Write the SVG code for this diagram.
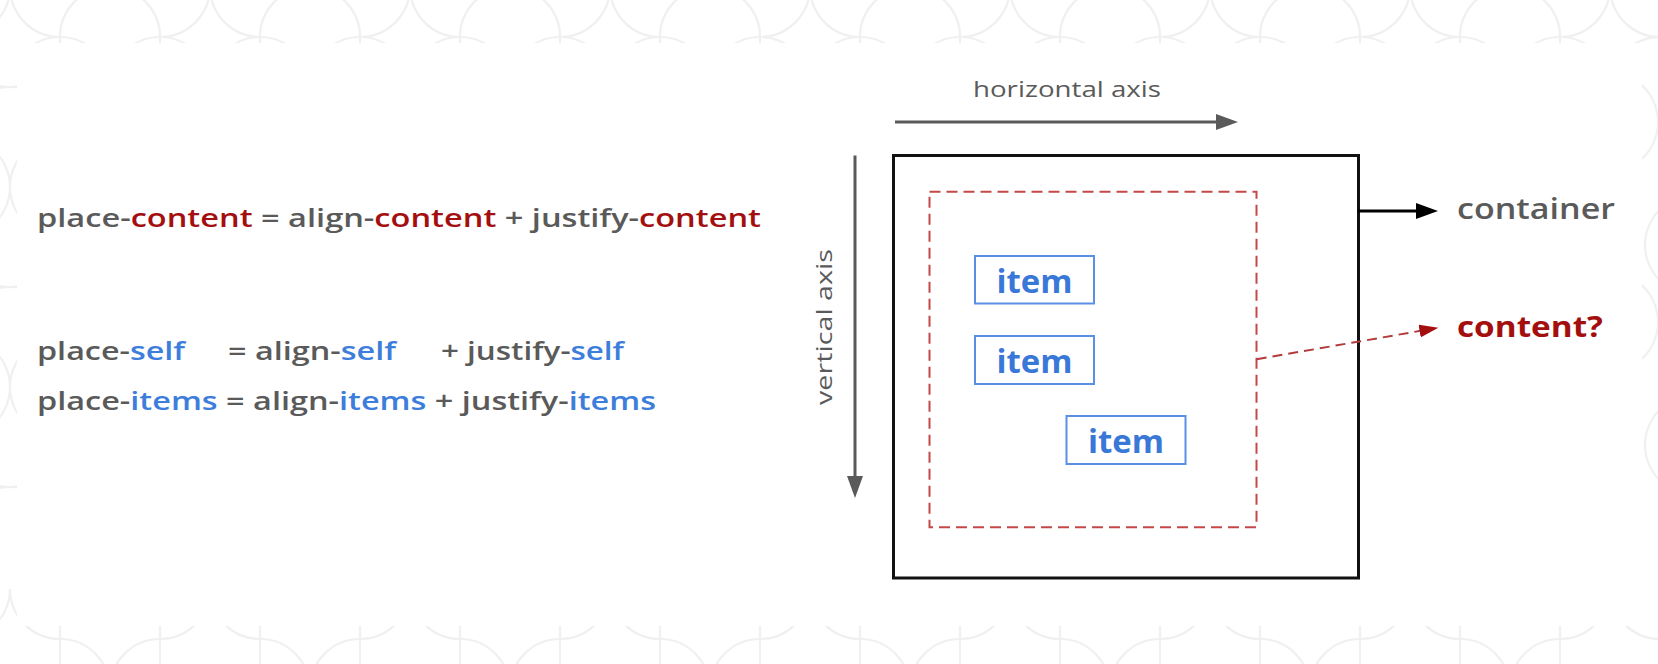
<svg xmlns="http://www.w3.org/2000/svg" xmlns:xlink="http://www.w3.org/1999/xlink" width="1658" height="664" viewBox="0 0 1658 664">
<style>
.bgp{fill:none;stroke:#f0f0f0;stroke-width:2.2}
.t{font-family:"Open Sans","Noto Sans","Liberation Sans",sans-serif;fill:#5a5a5a}
.lt{font-size:25px;font-weight:600}
.r{fill:#a30f0f}
.b{fill:#3d7ddb}
.ax{font-size:22px;font-weight:500}
.item rect{fill:#fff;stroke:#5b8fe3;stroke-width:2}
.item text{font-family:"Open Sans","Noto Sans","Liberation Sans",sans-serif;font-size:33px;font-weight:700;fill:#3a78d8;text-anchor:middle}
.gray{stroke:#5a5a5a;stroke-width:3;fill:none}
</style>
<defs>
<marker id="ahGray" viewBox="0 0 22 16" refX="1" refY="8" markerWidth="22" markerHeight="16" markerUnits="userSpaceOnUse" orient="auto"><path d="M0,0 L22,8 L0,16 z" fill="#5a5a5a"/></marker>
<marker id="ahBlack" viewBox="0 0 22 16" refX="1" refY="8" markerWidth="22" markerHeight="16" markerUnits="userSpaceOnUse" orient="auto"><path d="M0,0 L22,8 L0,16 z" fill="#000"/></marker>
<marker id="ahRed" viewBox="0 0 19 13" refX="1" refY="6.5" markerWidth="19" markerHeight="13" markerUnits="userSpaceOnUse" orient="auto"><path d="M0,0 L19,6.5 L0,13 z" fill="#a30f0f"/></marker>
<g id="tcell" class="bgp">
<path d="M0,37 A50,50 0 0 1 100,37"/>
<path d="M100,37 A50,50 0 0 0 150,-13"/>
<path d="M200,37 A50,50 0 0 1 150,-13"/>
<path d="M0,37 V60 M100,37 V60"/>
<path d="M-35,51.3 A50,50 0 0 1 35,51.3 M65,51.3 A50,50 0 0 1 135,51.3"/>
</g>
<g id="bcell" class="bgp">
<path d="M0,615 V664 M100,615 V664"/>
<path d="M0,639 A50,50 0 0 1 -50,589 M0,639 A50,50 0 0 1 50,689"/>
<path d="M100,639 A50,50 0 0 0 50,689 M100,639 A50,50 0 0 0 150,589"/>
</g>
</defs>
<rect width="1658" height="664" fill="#fff"/>
<g id="background">
<use xlink:href="#tcell" href="#tcell" x="-140"/>
<use xlink:href="#tcell" href="#tcell" x="60"/>
<use xlink:href="#tcell" href="#tcell" x="260"/>
<use xlink:href="#tcell" href="#tcell" x="460"/>
<use xlink:href="#tcell" href="#tcell" x="660"/>
<use xlink:href="#tcell" href="#tcell" x="860"/>
<use xlink:href="#tcell" href="#tcell" x="1060"/>
<use xlink:href="#tcell" href="#tcell" x="1260"/>
<use xlink:href="#tcell" href="#tcell" x="1460"/>
<use xlink:href="#tcell" href="#tcell" x="1660"/>
<use xlink:href="#bcell" href="#bcell" x="-140"/>
<use xlink:href="#bcell" href="#bcell" x="60"/>
<use xlink:href="#bcell" href="#bcell" x="260"/>
<use xlink:href="#bcell" href="#bcell" x="460"/>
<use xlink:href="#bcell" href="#bcell" x="660"/>
<use xlink:href="#bcell" href="#bcell" x="860"/>
<use xlink:href="#bcell" href="#bcell" x="1060"/>
<use xlink:href="#bcell" href="#bcell" x="1260"/>
<use xlink:href="#bcell" href="#bcell" x="1460"/>
<use xlink:href="#bcell" href="#bcell" x="1660"/>
<g class="bgp">
<path d="M-20,77 A50,50 0 0 0 40,77 M-20,97 A50,50 0 0 1 40,97"/>
<path d="M-20,277 A50,50 0 0 0 40,277 M-20,297 A50,50 0 0 1 40,297"/>
<path d="M-20,477 A50,50 0 0 0 40,477 M-20,497 A50,50 0 0 1 40,497"/>
<path d="M-10,147 A50,50 0 0 1 -10,227 M30,147 A50,50 0 0 0 30,227"/>
<path d="M-10,347 A50,50 0 0 1 -10,427 M30,347 A50,50 0 0 0 30,427"/>
<path d="M1638,82 A50,50 0 0 1 1638,162 M1638,282 A50,50 0 0 1 1638,362"/>
<path d="M1665,205 A50,50 0 0 0 1665,285 M1665,405 A50,50 0 0 0 1665,485"/>
</g>
<rect x="17" y="43" width="1625" height="583" fill="#fff"/>
</g>
<g id="formulas" class="t lt">
<text x="37" y="227" textLength="724" lengthAdjust="spacingAndGlyphs">place-<tspan class="r">content</tspan> = align-<tspan class="r">content</tspan> + justify-<tspan class="r">content</tspan></text>
<text x="37" y="360" textLength="148" lengthAdjust="spacingAndGlyphs">place-<tspan class="b">self</tspan></text>
<text x="228" y="360" textLength="168" lengthAdjust="spacingAndGlyphs">= align-<tspan class="b">self</tspan></text>
<text x="441" y="360" textLength="183" lengthAdjust="spacingAndGlyphs">+ justify-<tspan class="b">self</tspan></text>
<text x="37" y="410" textLength="619" lengthAdjust="spacingAndGlyphs">place-<tspan class="b">items</tspan> = align-<tspan class="b">items</tspan> + justify-<tspan class="b">items</tspan></text>
</g>
<g id="container">
<rect x="893.5" y="155.5" width="465" height="422.5" fill="none" stroke="#111" stroke-width="3"/>
</g>
<g id="content">
<rect x="929.5" y="191.7" width="327" height="335.5" fill="none" stroke="#c44848" stroke-width="2" stroke-dasharray="11 6"/>
</g>
<g id="item1" class="item"><rect x="975" y="256" width="119" height="47.5"/><text x="1034.5" y="292.5" textLength="76" lengthAdjust="spacingAndGlyphs">item</text></g>
<g id="item2" class="item"><rect x="975" y="336" width="119" height="48"/><text x="1034.5" y="372.5" textLength="76" lengthAdjust="spacingAndGlyphs">item</text></g>
<g id="item3" class="item"><rect x="1066.5" y="416" width="119" height="48"/><text x="1126" y="452.5" textLength="76" lengthAdjust="spacingAndGlyphs">item</text></g>
<g id="labels" class="t">
<text class="ax" x="973" y="97" textLength="188" lengthAdjust="spacingAndGlyphs">horizontal axis</text>
<text class="ax" transform="translate(832,327) rotate(-90)" text-anchor="middle" textLength="156" lengthAdjust="spacingAndGlyphs">vertical axis</text>
<text x="1457" y="219" font-size="29" font-weight="600" textLength="158" lengthAdjust="spacingAndGlyphs">container</text>
<text x="1457" y="337" font-size="29" font-weight="700" class="r" textLength="146" lengthAdjust="spacingAndGlyphs">content?</text>
</g>
<g id="connectors">
<line class="gray" x1="895" y1="122" x2="1217" y2="122" marker-end="url(#ahGray)"/>
<line class="gray" x1="855" y1="155.5" x2="855" y2="477" marker-end="url(#ahGray)"/>
<line x1="1358" y1="211" x2="1417" y2="211" stroke="#000" stroke-width="3" marker-end="url(#ahBlack)"/>
<line x1="1256.7" y1="359.3" x2="1420.6" y2="330.8" stroke="#b23b3b" stroke-width="2" stroke-dasharray="10 6" marker-end="url(#ahRed)"/>
</g>
</svg>
